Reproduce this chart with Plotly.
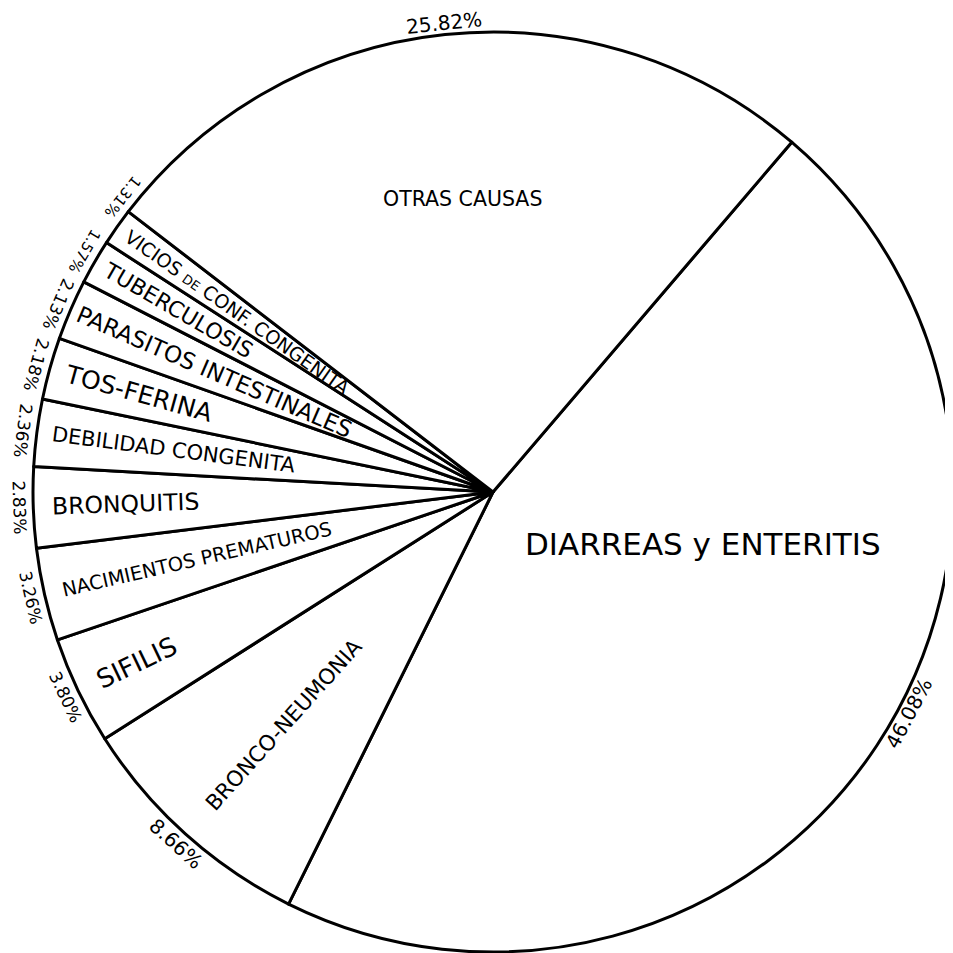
import math
import plotly.graph_objects as go

# causes of death, in clockwise order from the Diarreas slice
causes = [
    "DIARREAS y ENTERITIS",
    "BRONCO-NEUMONIA",
    "SIFILIS",
    "NACIMIENTOS PREMATUROS",
    "BRONQUITIS",
    "DEBILIDAD CONGENITA",
    "TOS-FERINA",
    "PARASITOS INTESTINALES",
    "TUBERCULOSIS",
    "VICIOS <span style='font-size:13px'>DE</span> CONF. CONGENITA",
    "OTRAS CAUSAS",
]
percents = [46.08, 8.66, 3.80, 3.26, 2.83, 2.36, 2.18, 2.13, 1.57, 1.31, 25.82]

# label look: (radius fraction, font size, label angle or None, radial?, pct angle or None)
label_style = [
    (0.47, 31, 104, False, 118),
    (0.68, 21.5, None, True, None),
    (0.86, 26, None, True, None),
    (0.66, 19.5, None, True, None),
    (0.80, 23.5, None, True, None),
    (0.70, 21, None, True, None),
    (0.80, 25, None, True, None),
    (0.66, 23, None, True, None),
    (0.79, 22, None, True, 300.5),
    (0.68, 19, None, True, 308.5),
    (0.64, 20.5, None, False, None),
]

ROT = 40.5
FONT = "DejaVu Sans"

fig = go.Figure(go.Pie(
    labels=[c.replace("<span style='font-size:13px'>", "").replace("</span>", "") for c in causes],
    values=percents,
    sort=False,
    direction="clockwise",
    rotation=ROT,
    textinfo="none",
    marker=dict(colors=["white"] * len(causes), line=dict(color="black", width=3)),
    showlegend=False,
))


def pos(theta, frac):
    t = math.radians(theta)
    return 0.5 + 0.5 * frac * math.sin(t), 0.5 + 0.5 * frac * math.cos(t)


total = sum(percents)
cum = 0
annotations = []
for name, v, (frac, size, ang, radial, pang) in zip(causes, percents, label_style):
    mid = ROT + 360 * (cum + v / 2) / total
    cum += v
    theta = mid if ang is None else ang
    x, y = pos(theta, frac)
    annotations.append(dict(
        x=x, y=y, xref="paper", yref="paper", text=name, showarrow=False,
        xanchor="center", yanchor="middle",
        textangle=(mid - 270) if radial else 0,
        font=dict(family=FONT, size=size, color="black"),
    ))
    # percentage along the rim
    ptheta = mid if pang is None else pang
    a = (ptheta - 180 + 180) % 360 - 180
    if abs(a) > 150:
        a = a - 180 if a > 0 else a + 180
    psize = 15 if v < 2 else (17 if v < 5 else 20)
    px, py = pos(ptheta, 1.025 if v > 20 else 1.03)
    annotations.append(dict(
        x=px, y=py, xref="paper", yref="paper", text=f"{v:.2f}%", showarrow=False,
        xanchor="center", yanchor="middle", borderpad=0,
        textangle=a, font=dict(family=FONT, size=psize, color="black"),
    ))

# body has an 8px margin in the page, so margins are trimmed by 8
fig.update_layout(
    width=953, height=953, autosize=False,
    margin=dict(l=25, r=8, t=24, b=9),
    paper_bgcolor="white", plot_bgcolor="white",
    annotations=annotations,
)

fig.write_html("out.html")
